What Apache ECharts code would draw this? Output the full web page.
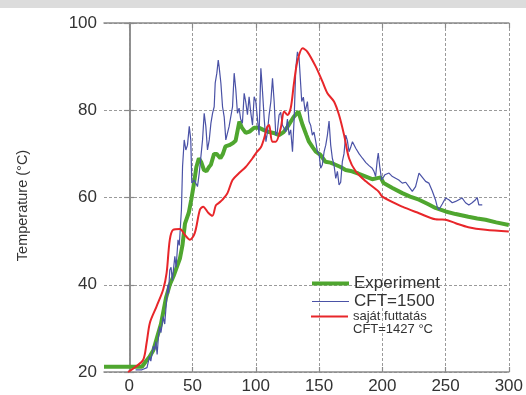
<!DOCTYPE html>
<html>
<head>
<meta charset="utf-8">
<script src="https://cdn.jsdelivr.net/npm/echarts@6/dist/echarts.min.js"></script>
<style>
  html, body { margin: 0; padding: 0; background: #ffffff; }
  #chart { width: 526px; height: 395px; }
</style>
</head>
<body>
<div id="chart"></div>
<script>
// Measured temperature (time in s, temperature in °C)
const experiment = [
  [-20,21.2],[10,21.2],[13,22.4],[16,23.5],[19,25],[22,28],[25,31],[29,37],[32,40],[35,42],
  [40,46],[42,49],[44,54],[47,56.5],[49,59.5],[51,63],[53,67],[55,69],[57,68],[59,66.3],
  [61,66],[63,67],[64.5,67.5],[67,70],[69,70],[72,69],[74,70],[76,71.7],[79,72],[82,72.5],
  [84,73],[87,77.4],[89,76],[92,74.8],[95,75.1],[98.7,76],[102.6,76],[106,75.5],[110.5,75],
  [114,74.8],[118.4,74.3],[122,75],[126,76.6],[130,78.5],[133.7,79.7],[137,76.6],[140,74.3],
  [142,72.8],[145,71.5],[147.4,70.5],[151,69.8],[155,68.2],[159,68],[163,67.5],[167,67],
  [171,66.3],[176,66],[181,65.5],[187,64.8],[192,64.2],[197,64.5],[198.7,64.6],[201,63.3],
  [208,62.2],[215.8,61],[222,60.2],[229,59.5],[236,58.5],[242,57.6],[250,56.8],[258,56.2],
  [268,55.6],[275,55.2],[281.6,54.9],[290,54.3],[300,53.7]
];

// Simulation with CFT = 1500
const cft1500 = [
  [5,20.5],[10,20.5],[14,21],[16,23.6],[17,22.5],[19,25.9],[20,25],[21,27],[22,24],[23,28],
  [24,30.4],[25,29],[26.8,32.7],[28,31],[29.5,36.6],[30.5,40],[31,38],[32,43.4],[33,44],[34,41],
  [36,46.5],[37,44],[38.5,50.3],[39.5,49],[41.2,57.2],[42.1,67.1],[43.4,73.2],[44.7,70.9],[46,72],
  [47.4,76.3],[48.6,73.2],[49.4,63.3],[51.3,64],[53.9,62.5],[55.3,65.6],[57.9,73.2],[59.2,79.3],
  [60.5,76.3],[61.8,70.9],[63.2,73.2],[64.5,77],[65.8,79.3],[67.1,80.8],[67.9,86.2],[69.2,88.5],
  [70.3,91.5],[71,90],[72.4,86.2],[73.7,80.8],[75,78.5],[76.3,73.2],[78.9,76.3],[81.6,80.8],
  [82.9,88.5],[84.2,84.7],[85.5,79.3],[86.8,80.5],[88,78],[89.4,77],[90.8,83.9],[92,82],
  [93.4,79],[94.7,83.1],[96,79.5],[97.4,76.6],[98.7,83.1],[100,82],[101.3,78],[102.6,74.3],
  [104,89.6],[105.3,84.3],[106.6,78.2],[108,72.8],[109.2,75],[110.5,78.9],[111.9,82],[113.2,87.3],
  [114.5,82],[115.8,74.3],[117,75],[118.4,78.9],[119.7,79.5],[121,76.6],[122.4,76.6],[123.7,75.1],
  [125,78],[126.3,74.3],[127.6,75.5],[129,70.5],[130.3,78],[131.6,89.6],[132.9,93.4],[134.2,92],
  [135.5,85.8],[136.3,82],[137.6,83],[139,79.7],[140.8,82],[142.1,77.4],[143.4,76.5],[144.7,74.3],
  [146,75],[147.4,72.8],[148.7,70.5],[150,70],[151.3,66.7],[152.6,67.5],[154,70.5],[155.3,72],
  [156.6,74.3],[157.9,77.5],[159.2,72],[160.5,69],[161.8,67.5],[163.2,64.4],[164.5,66],[165.8,62.9],
  [167.1,63.5],[168.4,68.2],[169.7,70],[171.1,74.3],[172.4,73],[173.7,70.5],[175,71.5],[176.4,72.8],
  [179,71.3],[181.7,70],[184.3,69],[187,68],[189.5,67.3],[192,66.7],[193.4,66],[194.7,64.8],
  [196,68.6],[196.8,70.2],[198,67],[199.5,64],[202,65.2],[205.3,65.6],[208,64.8],[210.5,64.4],
  [213,64],[215.8,63.3],[218.5,63.5],[221,62.5],[223.7,61.4],[226.3,62.5],[229,65.6],[230.3,65.9],
  [232,64.5],[234.2,63.7],[236.8,63.3],[239.5,61.5],[242,59.5],[243.4,57.9],[244.7,57.2],
  [247.4,58.5],[250,59.9],[252.6,59.5],[255.3,58.8],[258,59.1],[260.5,59.5],[263,59.9],
  [265.8,58.8],[268.4,58.3],[271,58.8],[273.7,59.5],[275,60],[276.3,58.3],[279,58.3]
];

// Own simulation run with CFT = 1427 °C
const sajatFuttatas = [
  [-1,20],[5,21.2],[11,22.8],[13.7,26.7],[16.3,31.3],[21.5,35],[26.8,38.9],[29.5,42.7],[32,50.3],
  [34.7,52.6],[40,52.8],[44,51.4],[47.9,50.3],[51.8,51.9],[55.8,57.2],[58.4,57.9],[62.4,56.5],
  [65.7,55.8],[68.4,58.2],[71,58.8],[73.7,59.5],[77.6,61],[81.6,64],[86.8,65.6],[92,67],
  [97.4,69],[101,70.5],[104,71.5],[106.6,73.6],[109,76.2],[110.5,76.6],[113,72.8],[115.8,72.8],
  [119.7,75.9],[122.4,79.7],[125,78.9],[127.6,80.5],[130,85.8],[132.8,91.1],[137,94.2],
  [140.8,93.4],[147.4,90],[152.6,86.6],[156.6,83.9],[161.8,82],[165.8,78.9],[169.8,74.3],
  [173.7,69],[179,66],[187,63.7],[197,61.4],[200,60.2],[215.8,57.9],[229,56.4],[242,55],
  [246,54.95],[250,54.9],[258,54.1],[268,53.2],[281.6,52.6],[300,52.2]
];

const xTicks = [0, 50, 100, 150, 200, 250, 300];
const seriesNames = ['Experiment', 'CFT=1500', 'saját futtatás\nCFT=1427 °C'];

const FONT = 'Liberation Sans, Arial, sans-serif';
const frame = { show: true, lineStyle: { color: '#8a8a8a', width: 1.5 } };
const grid = { type: [3, 2], color: '#9a9a9a', width: 1 };
const inTick = { show: true, inside: true, length: 5, lineStyle: { color: '#8a8a8a', width: 1.2 } };
// legend entries show only the line, not the point symbol
const noSymbol = { opacity: 0 };

const chart = echarts.init(document.getElementById('chart'), null, { renderer: 'canvas' });

chart.setOption({
  animation: false,
  backgroundColor: '#ffffff',
  graphic: [{
    type: 'rect', left: 0, top: 0, z: -10,
    shape: { width: 526, height: 8 },
    style: { fill: '#dcdcdc' }
  }],
  grid: { left: 104, right: 16, top: 23, bottom: 23, containLabel: false },
  legend: [{
    orient: 'vertical', left: 310, top: 275, itemGap: 1, padding: 0,
    itemWidth: 37, itemHeight: 17,
    textStyle: { fontFamily: FONT, fontSize: 17, color: '#333333' },
    data: [
      { name: seriesNames[0], itemStyle: noSymbol, lineStyle: { width: 4 } },
      { name: seriesNames[1], itemStyle: noSymbol, lineStyle: { width: 1.2 } }
    ],
    selectedMode: false
  }, {
    orient: 'vertical', left: 310, top: 297, padding: 0, itemWidth: 37, itemHeight: 13,
    // a blank first line keeps the legend line level with "saját futtatás"
    formatter: name => ' \n' + name,
    textStyle: { fontFamily: FONT, fontSize: 13, lineHeight: 13, color: '#333333' },
    data: [{ name: seriesNames[2], itemStyle: noSymbol, lineStyle: { width: 2 } }],
    selectedMode: false
  }],
  xAxis: [{
    type: 'value', min: -20, max: 300, position: 'bottom',
    axisLine: frame,
    axisTick: Object.assign({ customValues: xTicks }, inTick),
    axisLabel: { customValues: xTicks, fontFamily: FONT, fontSize: 17, color: '#333333', margin: 6 },
    splitLine: { show: true, lineStyle: grid }
  }, {
    type: 'value', min: -20, max: 300, position: 'top',
    axisLine: frame,
    axisTick: Object.assign({ customValues: xTicks }, inTick),
    axisLabel: { show: false },
    splitLine: { show: false }
  }],
  yAxis: [{
    type: 'value', min: 20, max: 100, interval: 20, position: 'left',
    name: 'Temperature (°C)', nameLocation: 'middle', nameGap: 74,
    nameTextStyle: { fontFamily: FONT, fontSize: 14.5, color: '#333333', padding: [0, 16, 0, 0] },
    axisLine: frame,
    axisTick: inTick,
    axisLabel: { fontFamily: FONT, fontSize: 17, color: '#333333', margin: 7 },
    splitLine: { show: true, lineStyle: grid }
  }, {
    type: 'value', min: 20, max: 100, interval: 20, position: 'right',
    axisLine: frame,
    axisTick: inTick,
    axisLabel: { show: false },
    splitLine: { show: false }
  }],
  series: [{
    name: seriesNames[0], type: 'line', data: experiment,
    showSymbol: false, symbol: 'none', z: 3,
    lineStyle: { color: '#4fa62f', width: 4 }, itemStyle: { color: '#4fa62f' }
  }, {
    name: seriesNames[1], type: 'line', data: cft1500,
    showSymbol: false, symbol: 'none', z: 4,
    lineStyle: { color: '#4a52a6', width: 1.2 }, itemStyle: { color: '#4a52a6' }
  }, {
    name: seriesNames[2], type: 'line', data: sajatFuttatas,
    showSymbol: false, symbol: 'none', z: 5, smooth: 0.3,
    lineStyle: { color: '#e8262a', width: 2 }, itemStyle: { color: '#e8262a' }
  }]
});
</script>
</body>
</html>
